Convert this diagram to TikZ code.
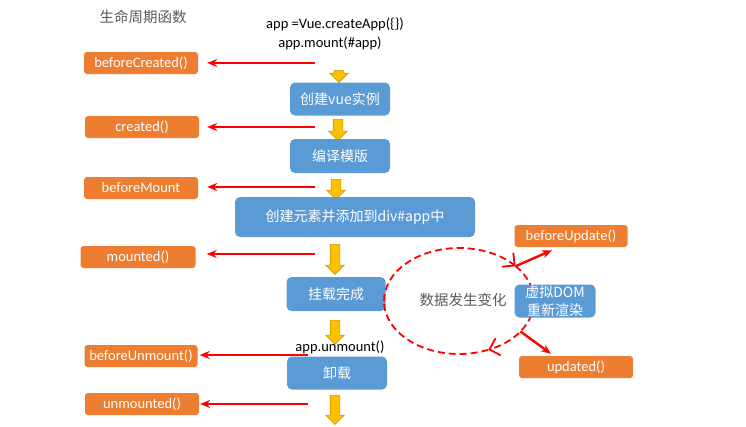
\documentclass[tikz,border=0pt]{standalone}
\usepackage{fontspec}
\setmainfont{Noto Sans CJK SC}
\newfontfamily\lat{Carlito}
\usepackage{tikz}
\usetikzlibrary{arrows.meta, shapes.arrows, calc}

\definecolor{hookorange}{HTML}{ED7D31}
\definecolor{stepblue}{HTML}{5B9BD5}
\definecolor{flowgold}{HTML}{FFC000}
\definecolor{flowedge}{HTML}{C89B00}
\definecolor{callred}{HTML}{FF0000}

\begin{document}
\begin{tikzpicture}[
    x=1pt, y=-1pt,
    >={Stealth[length=10pt, width=8pt]},
    % Lifecycle hook boxes (orange)
    hook/.style={
        rectangle, rounded corners=3pt, fill=hookorange, text=white,
        minimum width=114pt, minimum height=22pt, inner sep=0pt,
        font=\lat\fontsize{14.5}{16}\selectfont
    },
    % Step boxes (blue)
    stepbox/.style={
        rectangle, rounded corners=5pt, fill=stepblue, text=white,
        minimum width=100pt, minimum height=33pt, inner sep=0pt,
        align=center, font=\fontsize{14}{18}\selectfont
    },
    % Plain code lines
    code/.style={font=\lat\fontsize{14.5}{16}\selectfont, inner sep=0pt},
    % Plain caption
    caption/.style={font=\fontsize{14.5}{16}\selectfont, text=black!65, inner sep=0pt},
    % Hook call arrow (red)
    call/.style={->, callred, line width=2.8pt},
    % Flow arrow (gold)
    flow/.style={
        single arrow, draw=flowedge, fill=flowgold, line width=0.6pt,
        rotate=-90, inner sep=0pt, inner ysep=4.5pt,
        single arrow head extend=4.5pt, minimum width=18pt
    },
    % Update loop
    updloop/.style={callred, line width=1.8pt, dash pattern=on 7pt off 4pt},
    loophead/.style={-{Straight Barb[length=9pt, width=18pt, line width=1.8pt]}},
]

\useasboundingbox (0,0) rectangle (746,426);

% Column centers
\def\hookx{141}
\def\stepx{338}

% Headers
\node[caption] (title) at (143,17) {生命周期函数};
\node[code] (create) at (335,24) {app =Vue.createApp(\{\})};
\node[code] (mount) at (330,43) {app.mount(\#app)};

% ===== Creation =====
\node[hook] (bc) at (\hookx,63) {beforeCreated()};
\coordinate (s1) at (315,63);
\draw[call, shorten >=9pt] (s1) -- (s1 -| bc.east);
\node[flow, minimum height=12pt] (f1) at (339,74) {};

\node[stepbox] (vue) at (340,99) {创建vue实例};

\node[hook] (cr) at (142,127) {created()};
\coordinate (s2) at (315,127);
\draw[call, shorten >=8pt] (s2) -- (s2 -| cr.east);
\node[flow, minimum height=21pt] (f2) at (338,127.5) {};

\node[stepbox, minimum height=34pt] (tpl) at (340,156) {编译模版};

% ===== Mounting =====
\node[hook] (bm) at (\hookx,188) {beforeMount};
\coordinate (s3) at (315,187);
\draw[call, shorten >=9pt] (s3) -- (s3 -| bm.east);
\node[flow, minimum height=20pt] (f3) at (336,187) {};

\node[stepbox, minimum width=240pt, minimum height=40pt] (el) at (355,217)
    {创建元素并添加到div\#app中};

\node[hook, minimum width=115pt] (md) at (138,257) {mounted()};
\coordinate (s4) at (315,254);
\draw[call, shorten >=11pt] (s4) -- (s4 -| md.east);
\node[flow, minimum height=30pt] (f4) at (335,257) {};

\node[stepbox, minimum width=99pt, minimum height=34pt] (done) at (336,294) {挂载完成};
\node[flow, minimum height=24pt] (f5) at (335,330) {};

% ===== Unmounting =====
\node[hook, minimum width=113pt] (bum) at (\hookx,356) {beforeUnmount()};
\coordinate (s5) at (308,355);
\draw[call, shorten >=2pt] (s5) -- (s5 -| bum.east);

\node[stepbox] (ul) at (337,373) {卸载};
\node[code] (unm) at (340,347) {app.unmount()};

\node[hook] (um) at (142,404) {unmounted()};
\coordinate (s6) at (308,404);
\draw[call, shorten >=1pt] (s6) -- (s6 -| um.east);
\node[flow, minimum height=29pt] (f6) at (335,407.5) {};

% ===== Update loop =====
\coordinate (upd) at (459,301);
\draw[updloop, loophead] ($(upd)+(180:75pt and 53pt)$)
    arc[start angle=180, end angle=41, x radius=75pt, y radius=53pt];
\draw[updloop, loophead] ($(upd)+(41:75pt and 53pt)$)
    arc[start angle=41, end angle=-67, x radius=75pt, y radius=53pt];
\draw[updloop] ($(upd)+(-67:75pt and 53pt)$)
    arc[start angle=-67, end angle=-180, x radius=75pt, y radius=53pt];

\node[caption] (change) at (463,300) {数据发生变化};
\node[stepbox, minimum width=81pt] (dom) at (555,301) {虚拟DOM\\重新渲染};

\node[hook, minimum width=113pt] (bu) at (571,236) {beforeUpdate()};
\node[hook] (ud) at (576,367) {updated()};

\coordinate (ut) at ($(upd)+(41:75pt and 53pt)$);
\coordinate (ub) at ($(upd)+(-35:75pt and 53pt)$);
\draw[call, line width=2.4pt] (ut) -- ([xshift=-19pt, yshift=-3pt]bu.south);
\draw[call, line width=2.4pt] (ub) -- ([xshift=-25pt, yshift=2pt]ud.north);

\end{tikzpicture}
\end{document}
